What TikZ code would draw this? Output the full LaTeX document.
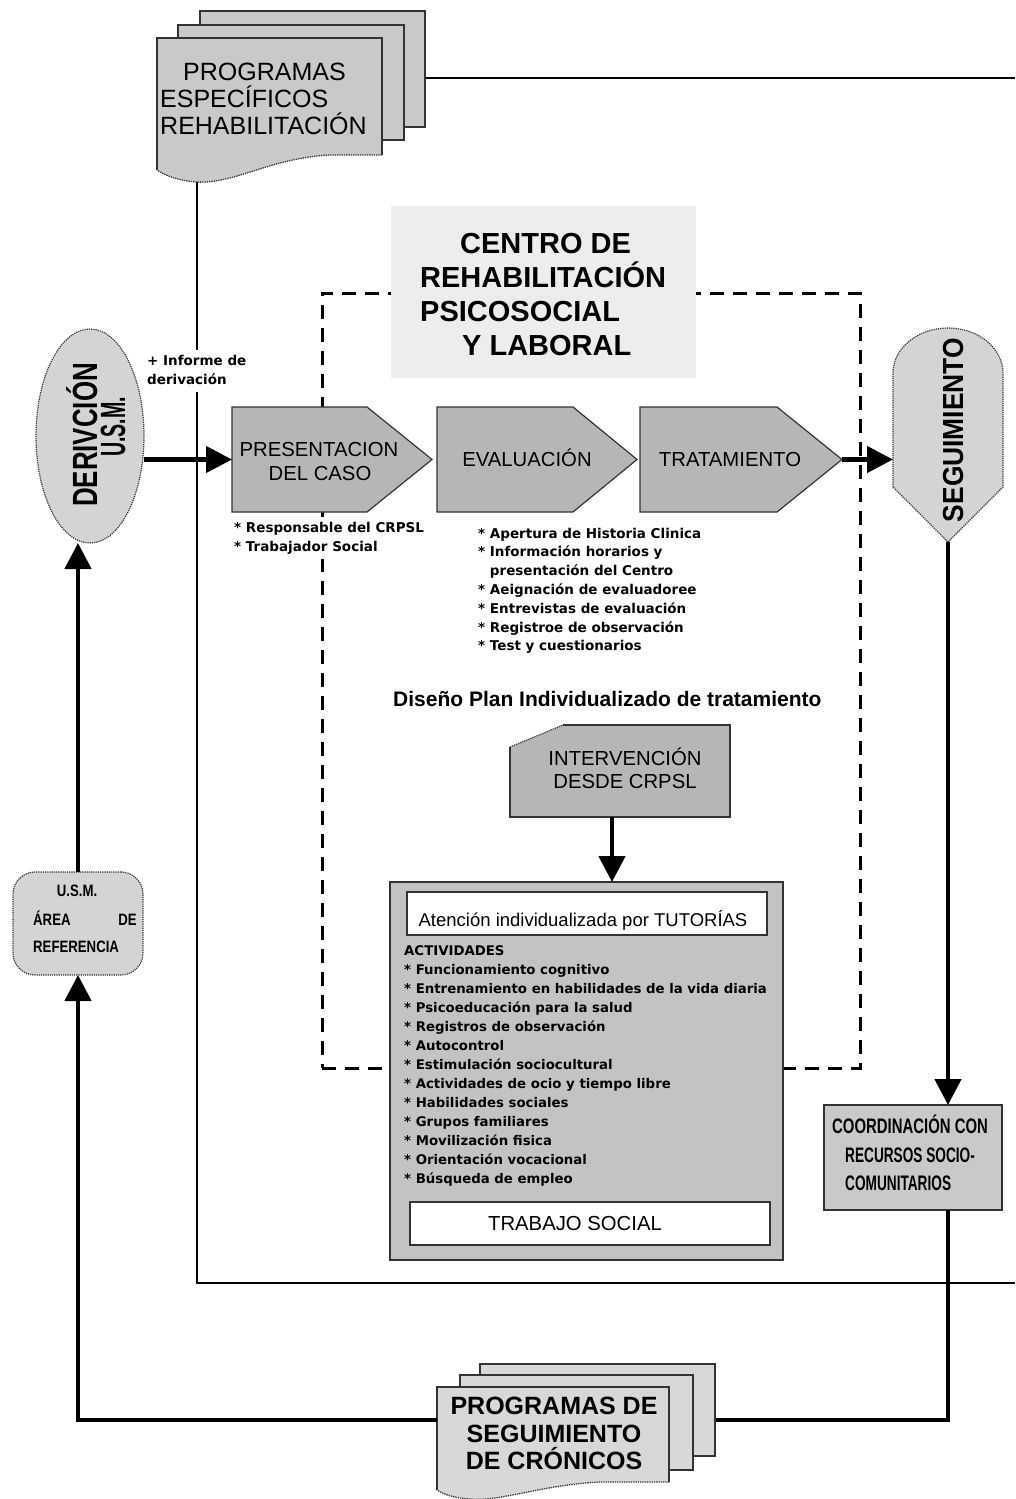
\documentclass[tikz,border=0pt]{standalone}
\usepackage{fontspec}
\setmainfont{Liberation Sans}
\newfontfamily\notefont{DejaVu Sans Bold}
\usepackage{graphicx}
\usetikzlibrary{arrows.meta,shapes.geometric,calc}

\definecolor{procgray}{HTML}{B6B6B6}
\definecolor{docgray}{HTML}{C9C9C9}
\definecolor{doclight}{HTML}{D8D8D8}
\definecolor{ovalgray}{HTML}{D4D4D4}
\definecolor{titlegray}{HTML}{EDEDED}
\definecolor{actgray}{HTML}{C3C3C3}
\definecolor{edgegray}{HTML}{333333}

\newcommand\fs[2]{\fontsize{#1}{#2}\selectfont}
\newcommand\cbf[2]{\scalebox{#1}[1]{\bfseries #2}}
% list bullet
\newcommand\itm{\mbox{*}\ }

\begin{document}
\begin{tikzpicture}[x=1pt,y=-1pt,
  thinline/.style={line width=1.7pt,draw=black},
  flowline/.style={line width=4.5pt,draw=black},
  flowarrow/.style={line width=4.5pt,draw=black,-{Triangle[length=26pt,width=26pt]}},
  docpage/.style={fill=docgray,draw=edgegray,line width=1.3pt,inner sep=0},
  anchorbox/.style={inner sep=0,outer sep=0},
  procshape/.style={fill=procgray,draw=edgegray,line width=1.2pt},
  proctext/.style={font=\fs{20.3}{24},inner sep=0,anchor=base},
  note/.style={font=\notefont\fs{13.5}{19},inner sep=0,anchor=base west},
  condtext/.style={inner sep=0},
]
\useasboundingbox (0,0) rectangle (1015,1499);

% free ends of the long return lines at the right margin
\coordinate (edgeTop) at (1015,78);
\coordinate (edgeBottom) at (1015,1283);

% ---------- dashed frame of the centre ----------
\node[draw=black,line width=3pt,dash pattern=on 14pt off 9pt,
      minimum width=538,minimum height=775,anchorbox] (frame) at (591,680.5) {};

% ---------- stacked document: specific programmes ----------
\node[docpage,minimum width=225,minimum height=116] (espback) at (312.5,69) {};
\node[docpage,minimum width=226,minimum height=115] (espmid) at (291,82.5) {};
\path[fill=docgray] (157,38) -- (382,38) -- (382,155) -- (330,155)
  .. controls (270,158) and (235,184) .. (197,182) coordinate (espdip)
  .. controls (180,181) and (166,176) .. (157,170) -- cycle;
\draw[edgegray,line width=1.3pt] (157,170) -- (157,38) -- (382,38) -- (382,155);
\draw[edgegray,line width=1.3pt,densely dotted] (382,155) -- (330,155)
  .. controls (270,158) and (235,184) .. (197,182)
  .. controls (180,181) and (166,176) .. (157,170);
\node[anchorbox,minimum width=225,minimum height=144] (espfront) at (269.5,110) {};
\node[font=\fs{25}{30},inner sep=0,anchor=base west] (esp1) at (183,80) {PROGRAMAS};
\node[font=\fs{25}{30},inner sep=0,anchor=base west] (esp2) at (160,107) {ESPECÍFICOS};
\node[font=\fs{25}{30},inner sep=0,anchor=base west] (esp3) at (160,134) {REHABILITACIÓN};

% thin return lines
\draw[thinline] ($(espback.east)+(0,9)$) -- (edgeTop);
\draw[thinline] (espdip) |- (edgeBottom);

% ---------- title of the centre ----------
\node[fill=titlegray,minimum width=305,minimum height=172,anchorbox] (title) at (543,292) {};
\node[font=\bfseries\fs{29}{34},inner sep=0,anchor=base west] (title1) at (460,253) {CENTRO DE};
\node[font=\bfseries\fs{29}{34},inner sep=0,anchor=base west] (title2) at (420,287) {REHABILITACIÓN};
\node[font=\bfseries\fs{29}{34},inner sep=0,anchor=base west] (title3) at (420,321) {PSICOSOCIAL};
\node[font=\bfseries\fs{29}{34},inner sep=0,anchor=base west] (title4) at (462,355) {Y LABORAL};

% ---------- referral oval ----------
\node[ellipse,fill=ovalgray,draw=edgegray,densely dotted,line width=1.2pt,
      minimum width=108,minimum height=214,anchorbox] (deriv) at (90,436) {};
\node[rotate=90,anchor=base,condtext] (deriv1) at (97,435) {\fs{35}{40}\cbf{0.74}{DERIVCIÓN}};
\node[rotate=90,anchor=base,condtext] (deriv2) at (125,427) {\fs{35}{40}\cbf{0.56}{U.S.M.}};

\node[note,fill=white,inner sep=2pt] (informe) at (145,365)
  {\begin{tabular}[t]{@{}l@{}}+ Informe de\\derivación\end{tabular}};

% ---------- process steps ----------
\path[procshape] (232,407) -- (367,407) -- (432,459.5) -- (367,512) -- (232,512) -- cycle;
\path[procshape] (437,407) -- (573,407) -- (637,459.5) -- (573,512) -- (437,512) -- cycle;
\path[procshape] (640,407) -- (777,407) -- (842,459.5) -- (777,512) -- (640,512) -- cycle;
\node[anchorbox,minimum width=200,minimum height=105] (pres) at (332,459.5) {};
\node[anchorbox,minimum width=200,minimum height=105] (eval) at (537,459.5) {};
\node[anchorbox,minimum width=202,minimum height=105] (trat) at (741,459.5) {};
\node[proctext] (pres1) at (319,456) {PRESENTACION};
\node[proctext] (pres2) at (320,480) {DEL CASO};
\node[proctext] (eval1) at (527,466) {EVALUACIÓN};
\node[proctext] (trat1) at (730,466) {TRATAMIENTO};

\node[note,fill=white,inner sep=2pt] (preslist) at (232,532)
  {\begin{tabular}[t]{@{}l@{}}\itm Responsable del CRPSL\\ \itm Trabajador Social\end{tabular}};
\node[note,font=\notefont\fs{13.5}{18.8}] (evallist) at (478,538)
  {\begin{tabular}[t]{@{}l@{}}\itm Apertura de Historia Clinica\\
   \itm Información horarios y\\
   \phantom{\itm}presentación del Centro\\
   \itm Aeignación de evaluadoree\\
   \itm Entrevistas de evaluación\\
   \itm Registroe de observación\\
   \itm Test y cuestionarios\end{tabular}};

\node[font=\bfseries\fs{21}{25},inner sep=0,anchor=base west] (plan) at (393,706)
  {Diseño Plan Individualizado de tratamiento};

% ---------- follow-up shape ----------
\path[fill=ovalgray,draw=edgegray,line width=1.2pt,densely dotted]
  (893,487) -- (893,373) .. controls (893,348) and (918,328) .. (948,328)
  .. controls (978,328) and (1003,348) .. (1003,373) -- (1003,487) -- (948,542) -- cycle;
\node[anchorbox,minimum width=110,minimum height=214] (seg) at (948,435) {};
\node[rotate=90,anchor=base,condtext] (seg1) at (963,430) {\fs{29}{34}\cbf{0.91}{SEGUIMIENTO}};

% ---------- intervention ----------
\path[fill=procgray] (510,747) -- (563,725) -- (730,725) -- (730,817) -- (510,817) -- cycle;
\draw[edgegray,line width=1.2pt] (563,725) -- (730,725) -- (730,817) -- (510,817) -- (510,747);
\draw[edgegray,line width=1.2pt,densely dotted] (510,747) -- (563,725);
\node[anchorbox,minimum width=220,minimum height=92] (interv) at (620,771) {};
\coordinate (intervout) at ($(interv.south)+(-8,0)$);
\node[proctext] (interv1) at (625,765) {INTERVENCIÓN};
\node[proctext] (interv2) at (625,788) {DESDE CRPSL};

% ---------- activities ----------
\node[fill=actgray,draw=edgegray,line width=1.3pt,minimum width=393,minimum height=378,anchorbox] (acts) at (586.5,1071) {};
\node[fill=white,draw=edgegray,line width=1.2pt,minimum width=360,minimum height=43,anchorbox] (tutor) at (587,913.5) {};
\node[font=\fs{18.5}{22},inner sep=0,anchor=base] (tutor1) at (583,926) {Atención individualizada por TUTORÍAS};
\node[note,font=\notefont\fs{13.3}{19}] (actlist) at (404,955)
  {\begin{tabular}[t]{@{}l@{}}ACTIVIDADES\\
   \itm Funcionamiento cognitivo\\
   \itm Entrenamiento en habilidades de la vida diaria\\
   \itm Psicoeducación para la salud\\
   \itm Registros de observación\\
   \itm Autocontrol\\
   \itm Estimulación sociocultural\\
   \itm Actividades de ocio y tiempo libre\\
   \itm Habilidades sociales\\
   \itm Grupos familiares\\
   \itm Movilización fisica\\
   \itm Orientación vocacional\\
   \itm Búsqueda de empleo\end{tabular}};
\node[fill=white,draw=edgegray,line width=1.2pt,minimum width=360,minimum height=43,anchorbox] (social) at (590,1223.5) {};
\node[font=\fs{20.3}{24},inner sep=0,anchor=base] (social1) at (575,1230) {TRABAJO SOCIAL};

% ---------- coordination ----------
\node[fill=docgray,draw=edgegray,line width=1.2pt,minimum width=178,minimum height=105,anchorbox] (coord) at (913,1157.5) {};
\node[condtext,anchor=base west] (coord1) at (832,1133) {\fs{21}{25}\cbf{0.71}{COORDINACIÓN CON}};
\node[condtext,anchor=base west] (coord2) at (845,1162) {\fs{21}{25}\cbf{0.65}{RECURSOS SOCIO-}};
\node[condtext,anchor=base west] (coord3) at (845,1190) {\fs{21}{25}\cbf{0.65}{COMUNITARIOS}};

% ---------- mental health unit ----------
\node[fill=ovalgray,draw=edgegray,densely dotted,line width=1.2pt,rounded corners=22pt,
      minimum width=130,minimum height=103,anchorbox] (usm) at (78,923.5) {};
\node[condtext,anchor=base] (usm1) at (77,896) {\fs{16.5}{20}\cbf{0.8}{U.S.M.}};
\node[condtext,anchor=base west] (usm2) at (33,925) {\fs{16.5}{20}\cbf{0.8}{ÁREA}};
\node[condtext,anchor=base east] (usm3) at (137,925) {\fs{16.5}{20}\cbf{0.8}{DE}};
\node[condtext,anchor=base west] (usm4) at (33,952) {\fs{16.5}{20}\cbf{0.8}{REFERENCIA}};

% ---------- stacked document: chronic follow-up ----------
\node[docpage,fill=doclight,minimum width=235,minimum height=92] (cronback) at (597.5,1410) {};
\node[docpage,fill=doclight,minimum width=233,minimum height=95] (cronmid) at (576.5,1422.5) {};
\path[fill=doclight] (437,1387) -- (669,1387) -- (669,1482) -- (600,1482)
  .. controls (540,1485) and (500,1502) .. (470,1499)
  .. controls (455,1498) and (445,1495) .. (437,1490) -- cycle;
\draw[edgegray,line width=1.3pt] (437,1490) -- (437,1387) -- (669,1387) -- (669,1482);
\draw[edgegray,line width=1.3pt,densely dotted] (669,1482) -- (600,1482)
  .. controls (540,1485) and (500,1502) .. (470,1499)
  .. controls (455,1498) and (445,1495) .. (437,1490);
\node[anchorbox,minimum width=232,minimum height=66] (cronfront) at (553,1420) {};
\node[font=\bfseries\fs{25}{28},inner sep=0,anchor=base] (cron1) at (554,1414) {PROGRAMAS DE};
\node[font=\bfseries\fs{25}{28},inner sep=0,anchor=base] (cron2) at (554,1442) {SEGUIMIENTO};
\node[font=\bfseries\fs{25}{28},inner sep=0,anchor=base] (cron3) at (554,1469) {DE CRÓNICOS};

% ---------- thick flow connectors ----------
\draw[flowarrow] (deriv.east |- pres.west) -- (pres.west);
\draw[flowarrow] (trat.east) -- (trat.east -| seg.west);
\draw[flowarrow] (seg.south) -- (seg.south |- coord.north);
\draw[flowline] (seg.south |- coord.south) |- ($(cronback.east)+(0,10)$);
\draw[flowarrow] (cronfront.west) -| (usm.south);
\draw[flowarrow] (usm.north) -- (usm.north |- deriv.south);
\draw[flowarrow] (intervout) -- (intervout |- acts.north);

\end{tikzpicture}
\end{document}
